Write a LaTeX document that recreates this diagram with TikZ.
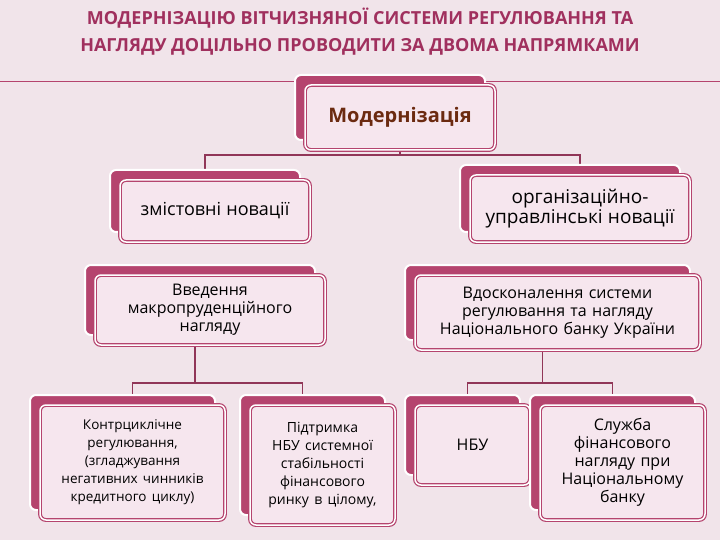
\documentclass[tikz,border=0pt]{standalone}
\usepackage{fontspec}
\setmainfont{Open Sans}
\usetikzlibrary{backgrounds}
\definecolor{dk}{HTML}{B5446E}
\definecolor{lt}{HTML}{F6E6EE}
\definecolor{bg}{HTML}{F1E4EA}
\definecolor{tt}{HTML}{A0305E}
\definecolor{br}{HTML}{6B2A10}
\newcommand\mybox[7]{%
  \fill[dk,draw=white,line width=2pt,rounded corners=6pt] (#2-10,#3-10) rectangle (#4-10,#5-10);
  \node[front,minimum width=#4-#2,minimum height=#5-#3,text width=#4-#2-10] (#1) at ({(#2+#4)/2},{(#3+#5)/2}) {#6#7};}
\begin{document}
\begin{tikzpicture}[x=1pt,y=-1pt,
  front/.style={draw=dk,line width=1.2pt,fill=lt,rounded corners=6pt,align=center,inner sep=1pt,
    double=white,double distance=1.5pt,font=\fontsize{16}{18}\selectfont},
  conn/.style={draw=dk!80!black,line width=1.5pt}]
\useasboundingbox (0,0) rectangle (720,540);
\mybox{mod}{305}{85}{495}{150}{\bfseries\color{br}\fontsize{20}{22}\selectfont}{Модернізація}
\mybox{zm}{120}{180}{310}{242}{\fontsize{18}{20}\selectfont}{змістовні новації}
\mybox{org}{470}{175}{690}{242}{\fontsize{19}{21}\selectfont}{організаційно-управлінські новації}
\mybox{vv}{95}{275}{325}{345}{}{Введення макропруденційного нагляду}
\mybox{vd}{415}{275}{700}{350}{}{Вдосконалення системи регулювання та нагляду Національного банку України}
\mybox{b1}{40}{405}{225}{520}{\fontsize{13.5}{16}\selectfont}{Контрциклічне регулювання, (згладжування негативних чинників кредитного циклу)}
\mybox{b2}{250}{405}{395}{525}{\fontsize{14}{16}\selectfont}{Підтримка НБУ системної стабільності фінансового ринку в цілому,}
\mybox{b3}{415}{405}{530}{485}{}{НБУ}
\mybox{b4}{540}{405}{705}{520}{}{Служба фінансового нагляду при Національному банку}
\coordinate (j1) at (400,155);
\coordinate (j2) at (213,383);
\coordinate (j3) at (565,383);
\begin{scope}[on background layer]
\fill[bg] (0,0) rectangle (720,540);
\node[text=tt,font=\bfseries\fontsize{18}{27}\selectfont,align=center] (title) at (360,32)
 {МОДЕРНІЗАЦІЮ ВІТЧИЗНЯНОЇ СИСТЕМИ РЕГУЛЮВАННЯ ТА\\НАГЛЯДУ ДОЦІЛЬНО ПРОВОДИТИ ЗА ДВОМА НАПРЯМКАМИ};
\coordinate (l1) at (0,82); \coordinate (l2) at (720,82);
\draw[dk,line width=1pt] (l1) -- (l2);
\draw[conn] (mod.south) -- (j1);
\draw[conn] (j1) -| ([xshift=-10pt]zm.north);
\draw[conn] (j1) -| (org.north);
\draw[conn] ([xshift=-15pt]vv.south) |- (j2) -| (b1.north);
\draw[conn] (j2) -| ([xshift=-20pt]b2.north);
\draw[conn] ([xshift=-15pt]vd.south) |- (j3) -| ([xshift=-5pt]b3.north);
\draw[conn] (j3) -| ([xshift=-10pt]b4.north);
\end{scope}
\end{tikzpicture}
\end{document}
